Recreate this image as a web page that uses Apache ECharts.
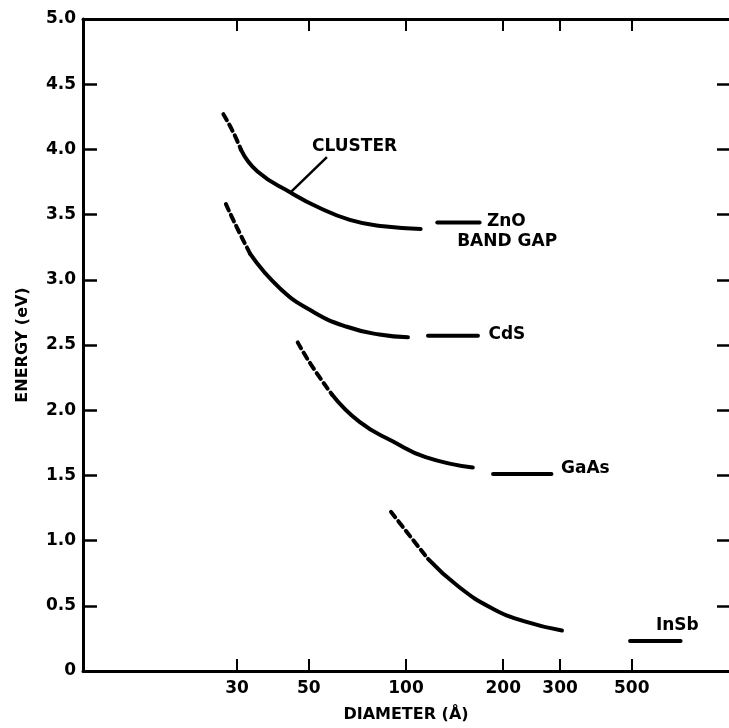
<!DOCTYPE html>
<html>
<head>
<meta charset="utf-8">
<script src="https://cdn.jsdelivr.net/npm/echarts@6/dist/echarts.min.js"></script>
<style>
html, body { margin: 0; padding: 0; background: #fff; }
#chart { width: 729px; height: 728px; }
</style>
</head>
<body>
<div id="chart"></div>
<script>
// diameter axis (log) tick values
const diameterTicks = [30, 50, 100, 200, 300, 500];

// curves: [diameter (A), energy (eV)]
const znoDashed = [[27.2, 4.27], [29.2, 4.13], [30.8, 4.00]];
const znoCluster = [[30.8, 4.00], [34.7, 3.83], [43.9, 3.67], [53.1, 3.56], [67.0, 3.46], [85.1, 3.41], [111, 3.39]];
const znoBulk = [[125, 3.44], [169, 3.44]];

const cdsDashed = [[27.7, 3.58], [29.7, 3.42], [32.9, 3.20]];
const cdsCluster = [[32.9, 3.20], [40.9, 2.93], [52.0, 2.75], [65.6, 2.64], [82.7, 2.58], [101.4, 2.56]];
const cdsBulk = [[117, 2.57], [167, 2.57]];

const gaasDashed = [[46.2, 2.52], [50.8, 2.35], [59.0, 2.12]];
const gaasCluster = [[59.0, 2.12], [71.8, 1.91], [91.2, 1.76], [115, 1.64], [161, 1.56]];
const gaasBulk = [[186, 1.51], [282, 1.51]];

const insbDashed = [[89.9, 1.22], [101, 1.06], [117, 0.86]];
const insbCluster = [[117, 0.86], [145, 0.65], [185, 0.48], [233, 0.38], [304, 0.31]];
const insbBulk = [[494, 0.23], [708, 0.23]];

// text annotations (left edge, middle)
const labelTexts = ["CLUSTER", "ZnO", "BAND GAP", "CdS", "GaAs", "InSb"];
const labelPos = [[51.2, 4.02], [178, 3.45], [144, 3.29], [180, 2.58], [302, 1.55], [594, 0.35]];
// arrow from CLUSTER text to the ZnO curve
const clusterArrow = [[56.9, 3.94], [43.9, 3.67]];

const font = "DejaVu Sans";
const ink = "#000";

function curve(data, dashed) {
    return {
        type: "line",
        data: data,
        smooth: true,
        showSymbol: false,
        symbol: "none",
        silent: true,
        lineStyle: { color: ink, width: 4, type: dashed ? [7, 5] : "solid", cap: "round" }
    };
}
function bulk(data) {
    return {
        type: "line",
        data: data,
        showSymbol: false,
        symbol: "none",
        silent: true,
        lineStyle: { color: ink, width: 4, cap: "round" }
    };
}

const series = [
    curve(znoDashed, true), curve(znoCluster, false), bulk(znoBulk),
    curve(cdsDashed, true), curve(cdsCluster, false), bulk(cdsBulk),
    curve(gaasDashed, true), curve(gaasCluster, false), bulk(gaasBulk),
    curve(insbDashed, true), curve(insbCluster, false), bulk(insbBulk)
];
series[1].markLine = {
    silent: true,
    symbol: ["none", "arrow"],
    symbolSize: [0, 18],
    label: { show: false },
    lineStyle: { color: ink, width: 2.5, type: "solid", opacity: 1 },
    data: [[{ coord: clusterArrow[0] }, { coord: clusterArrow[1] }]]
};
series.push({
    type: "scatter",
    silent: true,
    symbolSize: 0,
    itemStyle: { opacity: 1, color: ink },
    data: labelPos.map((p, i) => ({ value: p, name: labelTexts[i] })),
    label: {
        show: true,
        position: "right",
        distance: 0,
        formatter: p => p.name,
        color: ink,
        opacity: 1,
        fontFamily: font,
        fontWeight: "bold",
        fontSize: 17
    }
});

const chart = echarts.init(document.getElementById("chart"));
chart.setOption({
    backgroundColor: "#fff",
    animation: false,
    grid: { left: 83, top: 19, width: 654, height: 654 },
    xAxis: [
        {
            type: "log", logBase: 10, min: 10, max: 1000, position: "bottom",
            name: "DIAMETER (Å)", nameLocation: "middle", nameGap: 36,
            nameTextStyle: { color: ink, fontFamily: font, fontWeight: "bold", fontSize: 16 },
            axisLine: { show: true, onZero: false, lineStyle: { color: ink, width: 3 } },
            axisTick: { show: true, inside: true, length: 12, customValues: diameterTicks, lineStyle: { color: ink, width: 2 } },
            axisLabel: { show: true, customValues: diameterTicks, margin: 9, color: ink, fontFamily: font, fontWeight: "bold", fontSize: 17, formatter: v => String(v) },
            minorTick: { show: false },
            splitLine: { show: false }
        },
        {
            type: "log", logBase: 10, min: 10, max: 1000, position: "top",
            axisLine: { show: true, onZero: false, lineStyle: { color: ink, width: 3 } },
            axisTick: { show: true, inside: true, length: 12, customValues: diameterTicks, lineStyle: { color: ink, width: 2 } },
            axisLabel: { show: false },
            splitLine: { show: false }
        }
    ],
    yAxis: [
        {
            type: "value", min: 0, max: 5, interval: 0.5, position: "left",
            name: "ENERGY (eV)", nameLocation: "middle", nameGap: 52, nameRotate: 90,
            nameTextStyle: { color: ink, fontFamily: font, fontWeight: "bold", fontSize: 16 },
            axisLine: { show: true, onZero: false, lineStyle: { color: ink, width: 3 } },
            axisTick: { show: true, inside: true, length: 14, lineStyle: { color: ink, width: 2.5 } },
            axisLabel: { margin: 7, color: ink, fontFamily: font, fontWeight: "bold", fontSize: 17, formatter: v => v === 0 ? "0" : v.toFixed(1) },
            splitLine: { show: false }
        },
        {
            type: "value", min: 0, max: 5, interval: 0.5, position: "right",
            axisLine: { show: false, onZero: false },
            axisTick: { show: true, inside: true, length: 12, lineStyle: { color: ink, width: 2.5 } },
            axisLabel: { show: false },
            splitLine: { show: false }
        }
    ],
    series: series
});
</script>
</body>
</html>
